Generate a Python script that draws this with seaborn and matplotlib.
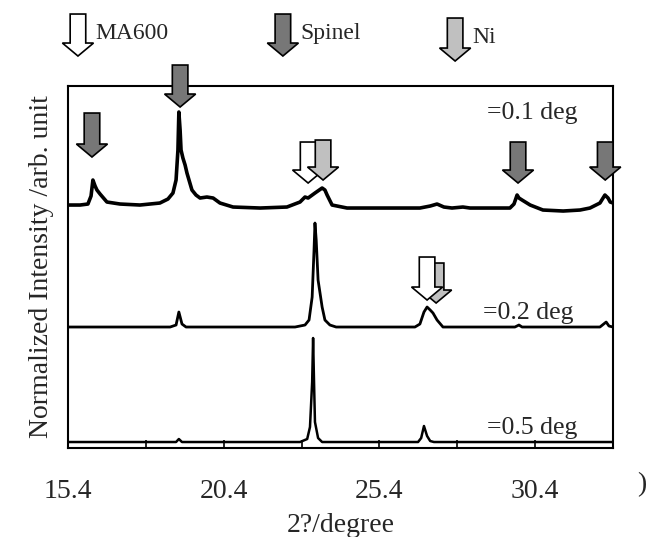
"""XRD patterns of MA600 at three step widths, with phase markers."""
import matplotlib
matplotlib.use("Agg")
import matplotlib.pyplot as plt
from matplotlib.patches import FancyArrow
import pandas as pd
import seaborn as sns

# scans (2theta in degree, intensity above own baseline)
top_x = [15.43, 15.79, 16.04, 16.14, 16.20, 16.27, 16.33, 16.43, 16.65, 17.07,
         17.71, 18.35, 18.61, 18.77, 18.87, 18.93, 18.96, 19.00, 19.03, 19.09,
         19.16, 19.22, 19.38, 19.51, 19.64, 19.86, 20.06, 20.28, 20.70, 21.57,
         22.43, 22.85, 23.01, 23.11, 23.33, 23.56, 23.65, 23.72, 23.88, 24.36,
         24.87, 25.97, 26.70, 27.03, 27.25, 27.47, 27.73, 28.08, 28.31, 29.59,
         29.72, 29.82, 29.88, 29.98, 30.24, 30.65, 31.30, 31.84, 32.16, 32.48,
         32.58, 32.64, 32.74, 32.81, 32.90]
top_y = [0.03, 0.03, 0.04, 0.12, 0.28, 0.22, 0.18, 0.14, 0.06, 0.04,
         0.03, 0.05, 0.09, 0.15, 0.28, 0.58, 0.96, 0.78, 0.58, 0.50,
         0.43, 0.35, 0.18, 0.13, 0.10, 0.11, 0.10, 0.05, 0.01, 0.00,
         0.01, 0.06, 0.11, 0.10, 0.15, 0.20, 0.18, 0.13, 0.03, 0.00,
         0.00, 0.00, 0.00, 0.02, 0.04, 0.01, 0.00, 0.01, 0.00, 0.00,
         0.04, 0.13, 0.10, 0.08, 0.03, -0.02, -0.03, -0.02, 0.00, 0.05,
         0.10, 0.13, 0.10, 0.06, 0.05]

mid_x = [15.43, 18.68, 18.87, 18.96, 19.06, 19.19, 22.69, 23.01, 23.14, 23.24,
         23.30, 23.33, 23.37, 23.43, 23.56, 23.65, 23.81, 24.01, 26.54, 26.70,
         26.83, 26.93, 27.03, 27.12, 27.25, 27.44, 29.75, 29.88, 29.98, 32.48,
         32.68, 32.77, 32.90]
mid_y = [0.00, 0.00, 0.02, 0.15, 0.03, 0.00, 0.00, 0.02, 0.07, 0.30,
         0.77, 1.04, 0.87, 0.47, 0.20, 0.07, 0.02, 0.00, 0.00, 0.03,
         0.15, 0.20, 0.17, 0.14, 0.07, 0.00, 0.00, 0.02, 0.00, 0.00,
         0.05, 0.01, 0.00]

bot_x = [15.43, 18.87, 18.96, 19.06, 22.85, 23.08, 23.17, 23.24, 23.27, 23.30,
         23.33, 23.43, 23.56, 26.64, 26.74, 26.83, 26.93, 27.03, 27.15, 32.90]
bot_y = [0.00, 0.00, 0.03, 0.00, 0.00, 0.03, 0.15, 0.60, 1.04, 0.60,
         0.20, 0.04, 0.00, 0.00, 0.04, 0.16, 0.06, 0.01, 0.00, 0.00]

step_labels = ["=0.1 deg", "=0.2 deg", "=0.5 deg"]
offsets = [2.40, 1.21, 0.06]
label_x = [28.86, 28.73, 28.86]
label_y = [3.35, 1.35, 0.20]

# phase markers on the scans (drawn in this order)
marker_phase = ["Spinel", "Spinel", "MA600", "Ni", "Spinel", "Spinel", "Ni", "MA600"]
marker_x = [16.17, 19.00, 23.11, 23.59, 29.85, 32.65, 27.22, 26.93]
marker_top = [3.35, 3.83, 3.06, 3.08, 3.06, 3.06, 1.85, 1.91]
marker_tip = [2.91, 3.41, 2.65, 2.68, 2.65, 2.68, 1.45, 1.48]

legend_phase = ["MA600", "Spinel", "Ni"]
legend_x = [15.72, 22.30, 27.83]
legend_top = [4.34, 4.34, 4.30]
legend_tip = [3.92, 3.92, 3.87]

phase_colors = {"MA600": "white", "Spinel": "#777777", "Ni": "#c0c0c0"}

major_ticks = [15.4, 20.4, 25.4, 30.4]
minor_ticks = [17.9, 22.9, 27.9, 32.9]

sns.set_style("white")
plt.rcParams["font.family"] = ["Liberation Serif", "DejaVu Serif"]

fig = plt.figure(figsize=(6.55, 5.37), dpi=100)
ax = fig.add_axes([0.1038, 0.1657, 0.8321, 0.6741])

scans = [(top_x, top_y), (mid_x, mid_y), (bot_x, bot_y)]
widths = [2.6, 2.0, 1.8]
for (xs, ys), off, lw in zip(scans, offsets, widths):
    df = pd.DataFrame({"two_theta": xs, "intensity": [v + off for v in ys]})
    sns.lineplot(data=df, x="two_theta", y="intensity", color="black",
                 lw=lw, estimator=None, sort=False, ax=ax)


def block_arrow(x, top, tip, phase, z):
    arr = FancyArrow(x, top, 0, tip - top, width=0.5, head_width=1.0,
                     head_length=0.13, length_includes_head=True,
                     facecolor=phase_colors[phase], edgecolor="black",
                     lw=1.2, zorder=z, clip_on=False)
    ax.add_patch(arr)


for i, (ph, x, t, p) in enumerate(zip(marker_phase, marker_x, marker_top, marker_tip)):
    block_arrow(x, t, p, ph, 5 + i)

for ph, x, t, p in zip(legend_phase, legend_x, legend_top, legend_tip):
    block_arrow(x, t, p, ph, 5)
    ax.text(x + 0.55, (t + p) / 2 + 0.02, ph, fontsize=17, va="center",
            ha="left", clip_on=False)

for lab, x, y in zip(step_labels, label_x, label_y):
    ax.text(x, y, lab, fontsize=18.5, va="center", ha="left")

ax.set_xlim(15.4, 32.9)
ax.set_ylim(0, 3.62)
ax.set_xticks(major_ticks)
ax.set_xticklabels([str(t) for t in major_ticks])
ax.set_xticks(minor_ticks, minor=True)
ax.set_yticks([])
ax.tick_params(axis="x", which="both", bottom=True, direction="in", length=6,
               width=1.2, color="black", labelsize=20, pad=22)
for s in ax.spines.values():
    s.set_color("black")
    s.set_linewidth(1.5)

ax.set_xlabel("2?/degree", fontsize=20, labelpad=7)
ax.set_ylabel("Normalized Intensity /arb. unit", fontsize=20, labelpad=10)
fig.text(0.98, 0.097, ")", fontsize=20, ha="center", va="center")

plt.savefig("out.png", dpi=100)
